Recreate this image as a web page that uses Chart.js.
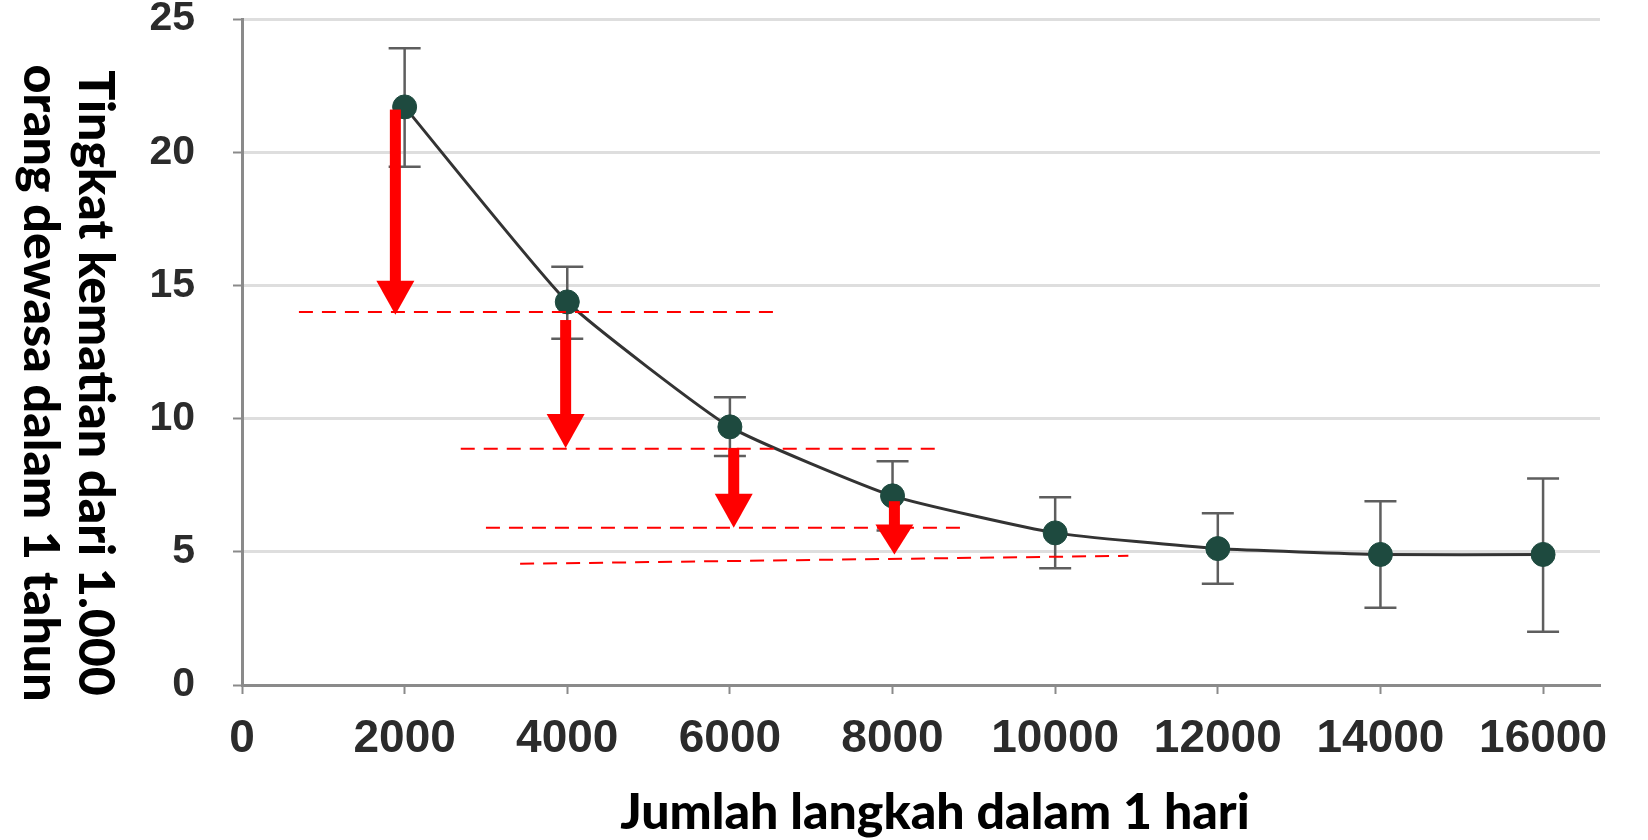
<!DOCTYPE html>
<html>
<head>
<meta charset="utf-8">
<script src="https://cdn.jsdelivr.net/npm/chart.js@4.4.1/dist/chart.umd.min.js"></script>
<style>
  html, body { margin: 0; padding: 0; background: #fff; }
</style>
</head>
<body>
<canvas id="stepChart" width="1648" height="840"></canvas>
<script>
// data
const steps = [2000, 4000, 6000, 8000, 10000, 12000, 14000, 16000];
const deathRate = [21.7, 14.38, 9.69, 7.1, 5.71, 5.12, 4.9, 4.9];
const errUpper = [23.9, 15.7, 10.8, 8.4, 7.05, 6.45, 6.9, 7.75];
const errLower = [19.45, 13.0, 8.6, 5.8, 4.38, 3.8, 2.9, 2.0];
const xTicks = [0, 2000, 4000, 6000, 8000, 10000, 12000, 14000, 16000];
const yTicks = [0, 5, 10, 15, 20, 25];

// red arrows and dashed guide lines (in data units)
const arrowX = [1886, 3980, 6047, 8023];
const arrowFrom = [21.6, 13.7, 8.9, 6.9];
const arrowTo = [13.9, 8.9, 5.9, 4.9];
const dashX1 = [700, 2690, 3000, 3420];
const dashX2 = [6560, 8550, 8850, 10900];
const dashY1 = [14.0, 8.87, 5.9, 4.55];
const dashY2 = [14.0, 8.87, 5.9, 4.85];

const yTitle = ['Tingkat kematian dari 1.000', 'orang dewasa dalam 1 tahun'];
const xTitle = 'Jumlah langkah dalam 1 hari';

const tickFont = 'Liberation Sans';
const titleFont = 'Lato';

const errorBars = {
	id: 'errorBars',
	beforeDatasetsDraw(chart) {
		const { ctx, scales: { x, y } } = chart;
		ctx.save();
		ctx.strokeStyle = '#5e5e5e';
		ctx.lineWidth = 2.5;
		steps.forEach((s, i) => {
			const px = x.getPixelForValue(s);
			const top = y.getPixelForValue(errUpper[i]);
			const bot = y.getPixelForValue(errLower[i]);
			ctx.beginPath();
			ctx.moveTo(px, top); ctx.lineTo(px, bot);
			ctx.moveTo(px - 16, top); ctx.lineTo(px + 16, top);
			ctx.moveTo(px - 16, bot); ctx.lineTo(px + 16, bot);
			ctx.stroke();
		});
		ctx.restore();
	}
};

const redMarks = {
	id: 'redMarks',
	afterDatasetsDraw(chart) {
		const { ctx, scales: { x, y } } = chart;
		ctx.save();
		ctx.strokeStyle = '#ff0000';
		ctx.lineWidth = 2;
		ctx.setLineDash([14, 9]);
		dashX1.forEach((v, i) => {
			ctx.beginPath();
			ctx.moveTo(x.getPixelForValue(v), y.getPixelForValue(dashY1[i]));
			ctx.lineTo(x.getPixelForValue(dashX2[i]), y.getPixelForValue(dashY2[i]));
			ctx.stroke();
		});
		ctx.setLineDash([]);
		ctx.fillStyle = '#ff0000';
		arrowX.forEach((v, i) => {
			const px = x.getPixelForValue(v);
			const y0 = y.getPixelForValue(arrowFrom[i]);
			const y1 = y.getPixelForValue(arrowTo[i]);
			const head = i === 3 ? 30 : 34;
			ctx.fillRect(px - 5.5, y0, 11, y1 - head - y0 + 1);
			ctx.beginPath();
			ctx.moveTo(px - 19, y1 - head);
			ctx.lineTo(px + 19, y1 - head);
			ctx.lineTo(px, y1);
			ctx.closePath();
			ctx.fill();
		});
		ctx.restore();
	}
};

const axisTitles = {
	id: 'axisTitles',
	afterDraw(chart) {
		const ctx = chart.ctx;
		ctx.save();
		ctx.fillStyle = '#000';
		ctx.font = '900 50px ' + titleFont;
		ctx.textAlign = 'center';
		ctx.textBaseline = 'middle';
		ctx.fillText(xTitle, 935, 813);
		[95, 40].forEach((cx, i) => {
			ctx.save();
			ctx.translate(cx, 383);
			ctx.rotate(Math.PI / 2);
			ctx.fillText(yTitle[i], 0, 0);
			ctx.restore();
		});
		ctx.restore();
	}
};

new Chart(document.getElementById('stepChart'), {
	type: 'line',
	data: {
		datasets: [{
			data: steps.map((s, i) => ({ x: s, y: deathRate[i] })),
			borderColor: '#333333',
			borderWidth: 3,
			tension: 0.15,
			pointRadius: 12,
			pointBackgroundColor: '#1e4a3f',
			pointBorderColor: '#1e4a3f',
			pointBorderWidth: 1
		}]
	},
	options: {
		responsive: false,
		animation: false,
		devicePixelRatio: 1,
		layout: { padding: { top: 19, right: 48, left: 0, bottom: 0 } },
		plugins: { legend: { display: false }, tooltip: { enabled: false } },
		scales: {
			x: {
				type: 'linear',
				min: 0,
				max: 16700,
				afterBuildTicks: s => { s.ticks = xTicks.map(v => ({ value: v })); },
				afterFit: s => { s.height = 155; s.paddingLeft = 0; s.paddingRight = 0; },
				grid: { drawOnChartArea: false, tickLength: 9, tickColor: '#8a8a8a', tickWidth: 2 },
				border: { display: true, color: '#8a8a8a', width: 3 },
				ticks: {
					font: { family: tickFont, weight: 'bold', size: 46 },
					color: '#2b2b2b',
					padding: 18,
					maxRotation: 0,
					autoSkip: false,
					callback: v => String(v)
				}
			},
			y: {
				min: 0,
				max: 25,
				afterBuildTicks: s => { s.ticks = yTicks.map(v => ({ value: v })); },
				afterFit: s => { s.width = 242; s.paddingTop = 0; s.paddingBottom = 0; },
				grid: { color: '#dedede', lineWidth: 3, tickLength: 9, tickColor: '#8a8a8a', tickWidth: 2 },
				border: { display: true, color: '#8a8a8a', width: 3 },
				ticks: {
					font: { family: tickFont, weight: 'bold', size: 41 },
					color: '#2b2b2b',
					padding: 38,
					callback: v => String(v)
				}
			}
		}
	},
	plugins: [errorBars, redMarks, axisTitles]
});
</script>
</body>
</html>
